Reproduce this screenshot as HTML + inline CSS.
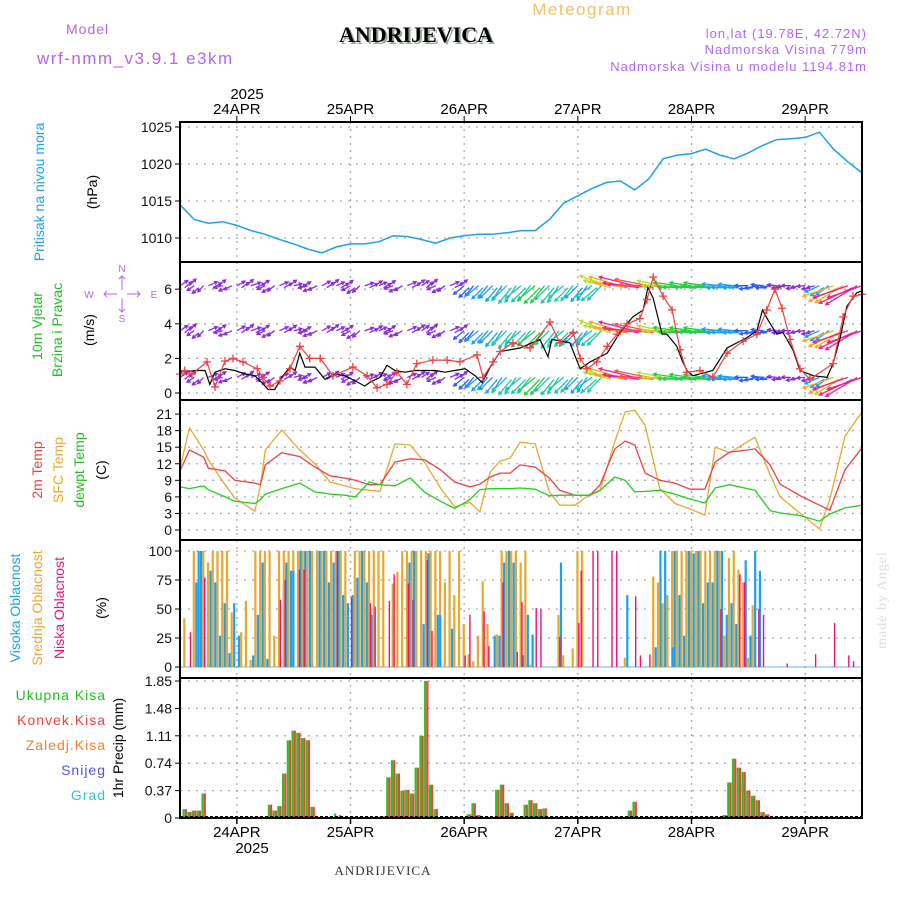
<!DOCTYPE html>
<html>
<head>
<meta charset="utf-8">
<style>
html,body{margin:0;padding:0;background:#fff;}
svg{display:block;}
text{font-family:"Liberation Sans",sans-serif;}
</style>
</head>
<body>
<svg id="chart" width="900" height="900" viewBox="0 0 900 900" xmlns="http://www.w3.org/2000/svg">
  <text x="582" y="15" font-size="17" fill="#f2c06a" text-anchor="middle" letter-spacing="1.5">Meteogram</text>
  <text x="66" y="34" font-size="14" fill="#b266f0" letter-spacing="1">Model</text>
  <text x="37" y="64" font-size="17" fill="#b266f0" letter-spacing="1.5">wrf-nmm_v3.9.1 e3km</text>
  <text x="418" y="44" font-size="22" font-weight="bold" fill="#9aa89a" text-anchor="middle" style="font-family:'Liberation Serif',serif">ANDRIJEVICA</text>
  <text x="416" y="42" font-size="22" font-weight="bold" fill="#000" text-anchor="middle" style="font-family:'Liberation Serif',serif">ANDRIJEVICA</text>
  <text x="867" y="38" font-size="13" fill="#b266f0" text-anchor="end" letter-spacing="1">lon,lat (19.78E, 42.72N)</text>
  <text x="867" y="54" font-size="13" fill="#b266f0" text-anchor="end" letter-spacing="1">Nadmorska Visina 779m</text>
  <text x="867" y="71" font-size="13" fill="#b266f0" text-anchor="end" letter-spacing="1">Nadmorska Visina u modelu 1194.81m</text>
  <text x="247" y="99" font-size="15" fill="#000" text-anchor="middle">2025</text>
  <text x="383" y="875" font-size="13" fill="#333" text-anchor="middle" letter-spacing="1" style="font-family:'Liberation Serif',serif">ANDRIJEVICA</text>
  <text x="252" y="853" font-size="15" fill="#000" text-anchor="middle">2025</text>
  <text transform="translate(886,600) rotate(-90)" font-size="14" fill="#d6e4d6" text-anchor="middle" style="font-family:'Liberation Serif',serif" letter-spacing="1">made by Angel</text>

  <text transform="translate(44,192) rotate(-90)" font-size="14" fill="#1ea0f0" text-anchor="middle">Pritisak na nivou mora</text>
  <text transform="translate(97,192) rotate(-90)" font-size="14" fill="#000" text-anchor="middle">(hPa)</text>
  <text transform="translate(42,326) rotate(-90)" font-size="14" fill="#20c020" text-anchor="middle">10m Vjetar</text>
  <text transform="translate(62,330) rotate(-90)" font-size="14" fill="#20c020" text-anchor="middle">Brzina i Pravac</text>
  <text transform="translate(94,330) rotate(-90)" font-size="14" fill="#000" text-anchor="middle">(m/s)</text>
  <g stroke="#b266f0" stroke-width="1" fill="none">
    <path d="M122 276 L122 290 M122 298 L122 312 M104 294 L117 294 M127 294 L140 294 M107 291 L104 294 L107 297 M137 291 L140 294 L137 297 M119 279 L122 276 L125 279 M119 309 L122 312 L125 309"/>
  </g>
  <text x="122" y="272" font-size="10" fill="#b266f0" text-anchor="middle">N</text>
  <text x="122" y="322" font-size="10" fill="#b266f0" text-anchor="middle">S</text>
  <text x="89" y="298" font-size="10" fill="#b266f0" text-anchor="middle">W</text>
  <text x="154" y="298" font-size="10" fill="#b266f0" text-anchor="middle">E</text>
  <text transform="translate(42,470) rotate(-90)" font-size="14" fill="#f04040" text-anchor="middle">2m Temp</text>
  <text transform="translate(63,470) rotate(-90)" font-size="14" fill="#e8a830" text-anchor="middle">SFC Temp</text>
  <text transform="translate(84,470) rotate(-90)" font-size="14" fill="#20c020" text-anchor="middle">dewpt Temp</text>
  <text transform="translate(106,470) rotate(-90)" font-size="14" fill="#000" text-anchor="middle">(C)</text>
  <text transform="translate(20,608) rotate(-90)" font-size="14" fill="#1ea0f0" text-anchor="middle">Visoka Oblacnost</text>
  <text transform="translate(42,608) rotate(-90)" font-size="14" fill="#e8a830" text-anchor="middle">Srednja Oblacnost</text>
  <text transform="translate(64,608) rotate(-90)" font-size="14" fill="#f0107a" text-anchor="middle">Niska Oblacnost</text>
  <text transform="translate(106,608) rotate(-90)" font-size="14" fill="#000" text-anchor="middle">(%)</text>
  <text x="106" y="700" font-size="14" fill="#20c020" text-anchor="end" letter-spacing="1">Ukupna  Kisa</text>
  <text x="106" y="725" font-size="14" fill="#f04040" text-anchor="end" letter-spacing="1">Konvek.Kisa</text>
  <text x="106" y="750" font-size="14" fill="#f08030" text-anchor="end" letter-spacing="1">Zaledj.Kisa</text>
  <text x="106" y="775" font-size="14" fill="#5050f0" text-anchor="end" letter-spacing="1">Snijeg</text>
  <text x="106" y="800" font-size="14" fill="#30c8d0" text-anchor="end" letter-spacing="1">Grad</text>
  <text transform="translate(123,748) rotate(-90)" font-size="14" fill="#000" text-anchor="middle">1hr Precip (mm)</text>

  <g id="grid"></g>
  <g id="marks"></g>
  <g id="frames"></g>
</svg>
<script>
const dayLabels = ["24APR","25APR","26APR","27APR","28APR","29APR"];
const dayHours = [12,36,60,84,108,132];

const pressTicks = [1010,1015,1020,1025];
const pressure = [1014.5,1012.5,1012,1012.2,1011.7,1011,1010.5,1009.8,1009.2,1008.5,1008,1008.8,1009.2,1009.2,1009.5,1010.3,1010.2,1009.8,1009.3,1010,1010.3,1010.5,1010.5,1010.7,1011,1011,1012.5,1014.7,1015.7,1016.7,1017.5,1017.7,1016.5,1018,1020.7,1021.2,1021.4,1022,1021.2,1020.7,1021.5,1022.5,1023.3,1023.4,1023.6,1024.3,1022,1020.3,1018.8];

const windTicks = [0,2,4,6];
const speedHours = [0,3.2,5.3,6.3,7.4,9.5,11.6,13.7,15.8,17.3,18.6,20,21.5,23.2,24.3,25.3,26.4,28.5,30.6,32.7,34.8,37,39,40,42.2,43.7,45.4,47.5,49.6,51.7,53.8,56,58,60.2,62.3,63.8,65.5,67.6,71.8,76,77.7,78.5,82.3,84.5,86.6,90.2,92.9,95.6,97.8,98.8,99.9,101.8,102.8,104.9,106,107,108.3,112.5,115.5,119.7,121.8,123,124.2,126,127.3,129.4,130.9,133.7,136.6,137.9,139.4,140.8,142.9,144];
const speedValues = [1.2,1.3,1.3,0.5,1.2,1.4,1.3,1.1,1.0,0.6,0.2,0.2,0.9,1.5,1.3,2.3,1.5,1.5,0.8,1.1,1.0,0.7,0.4,0.6,0.9,1.6,1.3,1.2,1.3,1.3,1.3,1.2,1.3,1.4,1.0,0.6,1.5,2.4,2.6,3.1,2.1,3.1,2.9,1.4,1.8,2.3,3.5,4.4,4.8,6.1,5.5,3.4,3.4,2.7,1.9,1.3,1.0,1.3,2.6,3.2,3.6,4.8,4.2,3.4,3.5,2.5,1.3,1.0,0.9,1.7,3.2,5.0,5.8,5.9];
const gustHours = [0,1,2.5,5.7,7.4,9.5,11.2,13.3,16.3,17.5,19,21.1,23.2,25.3,27.4,29.6,32.3,36.5,39.5,41.6,43.7,45.8,47.9,50,53.4,56.4,59.1,62.7,64,66.1,67.6,70.3,73.9,78.1,80.2,83,84.5,85.9,88,90.2,92.3,94.4,97.1,98.6,99.9,102,103.9,105.6,107,109.8,112.5,115.5,118.9,121.8,123.9,125.6,127.1,128.8,130.9,133,137.9,140,142.1,144];
const gustValues = [1.1,1.3,1.1,1.8,0.35,1.85,2.0,1.8,1.4,0.9,0.4,0.7,1.4,2.7,2.0,2.0,1.0,1.5,1.0,0.3,0.5,1.2,0.5,1.7,1.9,1.9,1.8,2.2,0.9,1.8,2.4,2.9,2.6,4.1,2.9,3.5,2.0,1.4,1.8,2.7,3.4,4.0,4.3,5.4,6.7,5.6,4.8,2.5,1.2,1.3,0.9,2.3,3.0,3.4,4.8,6.0,4.9,3.1,1.4,0.8,1.7,4.4,5.6,5.7];
const arrowSpeed = [1.5,1.3,1.6,1.4,1.5,1.7,1.4,1.5,1.3,1.6,1.5,1.4,1.6,1.5,1.3,1.5,1.6,1.4,1.5,1.6,2.5,3,3.5,4,4,4.5,4,3.8,3.5,4,6,7,8,7.5,5.5,5,4.5,4.5,3.5,3,2.5,2,1.5,1.5,1.2,3,7,8,8];
const arrowDir = [40,220,30,200,35,25,210,30,20,200,35,30,215,25,30,205,30,40,210,30,225,225,230,230,225,225,230,225,230,220,165,170,172,175,175,178,178,178,180,180,185,180,180,185,190,210,205,205,205];
const arrowRows = [6.2,3.6,0.9];

const tempTicks = [0,3,6,9,12,15,18,21];
const tempHours = [0,2,5,6,9.5,11.6,15.8,17,18,21.5,25.3,28.5,31.7,34.8,37,40,42.2,45.4,48.6,51.7,55,58,61.2,63.3,65.5,67.6,69.7,71.8,75,78,80.2,83.4,86.6,88.7,91.8,94,96,98.2,101.3,104.5,107.7,110.8,113,116,121.4,124.6,126.7,131,135,137.2,140.4,144];
const temp2m = [10.7,14.5,13.2,11.2,10.7,9,8.5,8.2,11.8,14,13.3,11.4,9.8,9.4,9,8.2,8.2,12.3,12.9,12.7,10.9,8.7,7.8,8.3,9.6,10.3,10.3,11.8,11.4,9.4,7.2,6.3,6.3,8.2,14.7,16.1,15.4,10.3,9,8.5,7.4,7.4,12.3,14.1,14.7,11.8,8.3,6.2,4.5,3.6,10.9,14.9];
const tempSfc = [11.2,18.5,14.5,12.7,8.2,5.8,3.4,8,14.5,18.1,14.5,12,8.7,8,7.5,7.2,7,15.6,15.4,12.2,7.6,4.2,5,3.3,10.5,12.5,13,15.9,15.6,6.9,4.5,4.5,6.5,7.2,16,21.4,21.7,19,7.5,4.8,3.8,2.7,15,14,16.8,10,6,3,0.2,5.5,17,21.4];
const tempDew = [7.8,7.5,8,7.3,6,5.2,4.8,5.5,6.5,7.5,8.5,6.9,6.5,6.3,6,8.7,8.2,8,9.4,6.8,5.2,3.9,5.5,7.3,7.5,7.5,7.5,7.6,7.4,6.2,6.3,6.3,6.3,7.2,9.6,9,6.9,7,7.2,6.5,5.6,4.9,7.6,8.2,7.2,3.5,3.1,2.6,1.6,2.9,4,4.5];

const cloudTicks = [0,25,50,75,100];
const midHours = [1,3,5,6,7,8,9,10,11,13,14,15,16,17,18,19,20,21,22,23,24,25,26,27,28,29,30,31,32,33,34,35,37,38,39,40,41,42,43,45,46,47,48,49,50,51,52,53,54,55,56,57,58,59,60,61,62,63,64,65,67,68,69,70,71,72,73,74,80,81,83,84,85,94,100,101,102,103,104,105,106,107,108,109,110,111,112,113,114,115,116,117,118,119,120,121];
const midValues = [42,100,100,90,100,100,100,100,47,30,57,6,100,100,100,100,27,100,100,100,100,100,100,100,100,100,100,100,100,100,100,100,100,100,100,100,100,100,100,72,82,100,100,100,100,100,100,100,100,100,73,100,62,100,37,11,5,27,74,37,28,100,100,100,100,90,100,2,45,10,16,100,100,8,78,73,55,62,100,100,100,100,100,100,100,100,100,100,100,27,94,100,84,73,8,53];
const highHours = [3,3.5,4,6,7,8,9,10,11,12,15,16,17,18,22,23,23.5,25,26,27,29,30,31,32,33,34,35,36,37,38,39,40,48,49,51,52,54,54.5,57,66,67,68,69,70,72,73,74,80,94,100,101,102,103.6,104,105,106,107,108,109,110,111,112,113,114,115,116,117,119,120,121,122];
const highValues = [73,100,100,83,73,27,55,12,55,27,10,45,90,7,90,83,83,100,100,100,100,100,73,90,100,62,55,62,77,100,73,45,90,100,37,98,45,45,33,27,27,90,100,90,10,45,28,90,62,17,100,100,17,100,62,27,100,98,100,55,73,73,100,100,45,55,37,92,27,100,83];
const lowHours = [2,5,21,22,25,26,33,36,40,41,44,45,48,49,52,53,60,61,64,65,68,71,72,75,76,80,84,84.5,87,88,91,92,96,97,99,114,118,119,122,123,128,134,138,141,142];
const lowValues = [30,77,58,75,84,84,100,60,55,52,57,80,72,58,92,31,10,45,48,18,73,13,56,51,50,26,38,83,100,100,100,100,61,10,11,50,80,73,50,45,3,11,38,10,5];

const precipTicks = [0,0.37,0.74,1.11,1.48,1.85];
const precipLabels = ["0","0.37","0.74","1.11","1.48","1.85"];
const precipHours = [1,2,3,4,5,19,20,21,22,23,24,25,26,27,28,33,34,43,44,45,46,47,48,49,50,51,52,53,54,61,62,63,67,68,69,70,73,74,75,76,77,89,95,96,115,116,117,118,119,120,121,122,123,124];
const precipTotal = [0.12,0.08,0.1,0.1,0.33,0.18,0.1,0.16,0.6,1.05,1.18,1.15,1.08,1.05,0.15,0.06,0.04,0.02,0.55,0.78,0.6,0.37,0.38,0.33,0.68,1.11,1.85,0.45,0.12,0.05,0.2,0.04,0.38,0.45,0.2,0.07,0.18,0.24,0.2,0.12,0.13,0.02,0.1,0.22,0.04,0.48,0.8,0.68,0.62,0.37,0.3,0.24,0.08,0.05];
const precipConv = [0.12,0.08,0.1,0.1,0.33,0.18,0.1,0.16,0.6,1.05,1.18,1.15,1.08,1.05,0.15,0,0,0.02,0.55,0.78,0.6,0.37,0.38,0.33,0.68,1.11,1.85,0.45,0.12,0.05,0.2,0.04,0.38,0.45,0.2,0.07,0.18,0.24,0.2,0.12,0.13,0,0.1,0.22,0.04,0.48,0.8,0.68,0.62,0.37,0.3,0.24,0.08,0.05];

const X0 = 180, X1 = 862;
function X(h){ return X0 + h*(X1-X0)/144; }
function yP(v){ return 238 - (v-1010)*7.4; }
function yW(v){ return 393 - v*17.3; }
function yT(v){ return 530 - v*5.52; }
function yC(v){ return 667 - v*1.16; }
function yR(v){ return 818 - v*74.05; }
const panels = [[122,262],[262,400],[400,540],[540,678],[678,818]];

const NS = "http://www.w3.org/2000/svg";
const grid = document.getElementById("grid");
const marks = document.getElementById("marks");
const frames = document.getElementById("frames");
function mk(tag, attrs, parent){
  const e = document.createElementNS(NS, tag);
  for (const k in attrs) e.setAttribute(k, attrs[k]);
  parent.appendChild(e);
  return e;
}
function pathFrom(hours, vals, yf){
  let d = "";
  for (let i=0;i<hours.length;i++) d += (i?"L":"M") + X(hours[i]).toFixed(1) + " " + yf(vals[i]).toFixed(1);
  return d;
}

for (let p=0;p<panels.length;p++){
  for (let i=0;i<dayHours.length;i++){
    const g = mk("line",{x1:X(dayHours[i]),x2:X(dayHours[i]),y1:panels[p][0],y2:panels[p][1],stroke:"#aaa","stroke-width":1.3,"stroke-dasharray":"2,5"},grid);
    
    
  }
}
function hTicks(ticks, yf, labels){
  for (let i=0;i<ticks.length;i++){
    const y = yf(ticks[i]);
    const g = mk("line",{x1:X0,x2:X1,y1:y,y2:y,stroke:"#aaa","stroke-width":1.3,"stroke-dasharray":"2,6"},grid);
    
    
    const t = mk("line",{x1:X0-5,x2:X0,y1:y,y2:y,stroke:"#000","stroke-width":1},frames);
    
    
    const lab = mk("text",{x:X0-8,y:y+5,"font-size":14,"text-anchor":"end",fill:"#111"},frames);
    lab.textContent = labels ? labels[i] : String(ticks[i]);
    
    
  }
}
hTicks(pressTicks, yP);
hTicks(windTicks, yW);
hTicks(tempTicks, yT);
hTicks(cloudTicks, yC);
hTicks(precipTicks, yR, precipLabels);

for (let i=0;i<dayLabels.length;i++){
  const x = X(dayHours[i]);
  const t1 = mk("text",{x:x,y:114,"font-size":15,"text-anchor":"middle",fill:"#000"},frames);
  t1.textContent = dayLabels[i];
  
  
  const k1 = mk("line",{x1:x,x2:x,y1:116,y2:122,stroke:"#000"},frames);
  
  
  const t2 = mk("text",{x:x,y:837,"font-size":15,"text-anchor":"middle",fill:"#000"},frames);
  t2.textContent = dayLabels[i];
  
  
  const k2 = mk("line",{x1:x,x2:x,y1:818,y2:824,stroke:"#000","stroke-width":1.5},frames);
  
  
}

const pl = mk("path",{d:pathFrom(pressure.map((v,i)=>i*3), pressure, yP),fill:"none",stroke:"#1ea0f0","stroke-width":1.5},marks);



function arrowColor(s){
  if (s<1.8) return "#8a2be2";
  if (s<2.8) return "#2a5cff";
  if (s<3.6) return "#1ea0f0";
  if (s<4.3) return "#20c8b0";
  if (s<5.2) return "#20d040";
  if (s<6.2) return "#b8e020";
  if (s<7.2) return "#f0b020";
  if (s<7.8) return "#ff5050";
  return "#f02090";
}
for (let r=0;r<arrowRows.length;r++){
  for (let i=0;i<arrowSpeed.length;i++){
    for (let k=0;k<3;k++){
      const x = X(i*3) + k*4.7, y = yW(arrowRows[r]) + (k===1 ? 2 : 0);
      if (x > X1) continue;
      const len = 3 + arrowSpeed[i]*4.2;
      const a = (arrowDir[i] + (k-1)*6)*Math.PI/180;
      const hx = x + len*Math.cos(a), hy = y - len*Math.sin(a);
      const b1 = a + Math.PI - 0.5, b2 = a + Math.PI + 0.5;
      const d = `M${x.toFixed(1)} ${y.toFixed(1)}L${hx.toFixed(1)} ${hy.toFixed(1)}M${(hx+3.5*Math.cos(b1)).toFixed(1)} ${(hy-3.5*Math.sin(b1)).toFixed(1)}L${hx.toFixed(1)} ${hy.toFixed(1)}L${(hx+3.5*Math.cos(b2)).toFixed(1)} ${(hy-3.5*Math.sin(b2)).toFixed(1)}`;
      const ar = mk("path",{d:d,fill:"none",stroke:arrowColor(arrowSpeed[i]),"stroke-width":1.3},marks);
      
      
    }
  }
}
const sl = mk("path",{d:pathFrom(speedHours, speedValues, yW),fill:"none",stroke:"#000","stroke-width":1.2},marks);


const gl = mk("path",{d:pathFrom(gustHours, gustValues, yW),fill:"none",stroke:"#f04040","stroke-width":1.2},marks);


for (let i=0;i<gustHours.length;i++){
  const x = X(gustHours[i]), y = yW(gustValues[i]);
  const gp = mk("path",{d:`M${x-4} ${y}L${x+4} ${y}M${x} ${y-4}L${x} ${y+4}`,stroke:"#f04040","stroke-width":1.3},marks);
  
  
}

const tl1 = mk("path",{d:pathFrom(tempHours, tempSfc, yT),fill:"none",stroke:"#e8a830","stroke-width":1.3},marks);


const tl2 = mk("path",{d:pathFrom(tempHours, temp2m, yT),fill:"none",stroke:"#f04040","stroke-width":1.3},marks);


const tl3 = mk("path",{d:pathFrom(tempHours, tempDew, yT),fill:"none",stroke:"#20d020","stroke-width":1.3},marks);



const cb = mk("line",{x1:X0,x2:X1,y1:yC(0),y2:yC(0),stroke:"#6ab8f0","stroke-width":1},marks);


for (let i=0;i<midHours.length;i++){
  const x = X(midHours[i]) - 1.5;
  const r = mk("rect",{x:x,y:yC(midValues[i]),width:2.2,height:yC(0)-yC(midValues[i]),fill:"#e8a830"},marks);
  
  
}
for (let i=0;i<highHours.length;i++){
  const x = X(highHours[i]) + 1;
  const r = mk("rect",{x:x,y:yC(highValues[i]),width:2.2,height:yC(0)-yC(highValues[i]),fill:"#1ea0f0"},marks);
  
  
}
for (let i=0;i<lowHours.length;i++){
  const x = X(lowHours[i]) + 0.3;
  const r = mk("rect",{x:x,y:yC(lowValues[i]),width:1.4,height:yC(0)-yC(lowValues[i]),fill:"#f0107a"},marks);
  
  
}

for (let i=0;i<precipHours.length;i++){
  const x = X(precipHours[i]);
  const g = mk("rect",{x:x-2.2,y:yR(precipTotal[i]),width:2.2,height:yR(0)-yR(precipTotal[i]),fill:"#20c820"},marks);
  
  
  if (precipConv[i] > 0){
    const c = mk("rect",{x:x,y:yR(precipConv[i]),width:2.2,height:yR(0)-yR(precipConv[i]),fill:"#f04040"},marks);
    
    
  }
}
const pb = mk("line",{x1:X0,x2:X1,y1:816.5,y2:816.5,stroke:"#000","stroke-width":1,"stroke-dasharray":"3,2"},marks);



for (let p=0;p<panels.length;p++){
  const f = mk("rect",{x:X0,y:panels[p][0],width:X1-X0,height:panels[p][1]-panels[p][0],fill:"none",stroke:"#000","stroke-width":2},frames);
  
  
}
</script>
</body>
</html>
